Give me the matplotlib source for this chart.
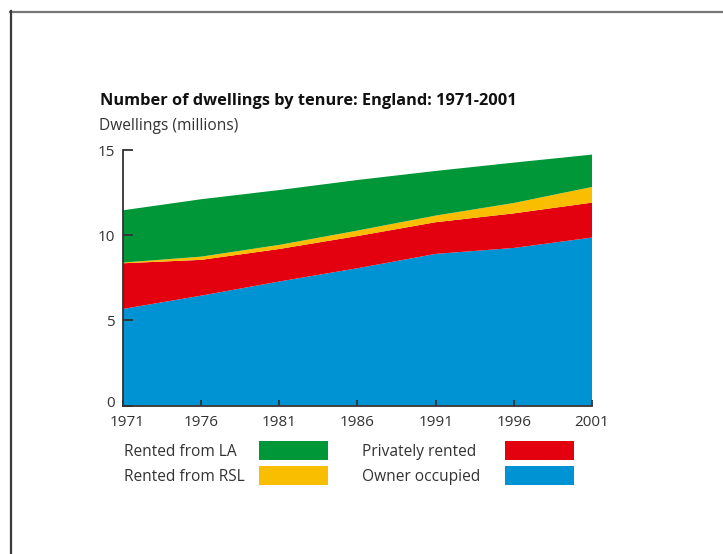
import numpy as np
import matplotlib
matplotlib.use("Agg")
import matplotlib.pyplot as plt
from matplotlib.patches import Rectangle
from matplotlib.lines import Line2D
from matplotlib.transforms import ScaledTranslation

# data (millions of dwellings)
years = [1971, 1976, 1981, 1986, 1991, 1996, 2001]
owner_occupied = [5.67, 6.45, 7.28, 8.06, 8.90, 9.25, 9.86]
privately_rented = [2.68, 2.10, 1.91, 1.89, 1.86, 2.03, 2.05]
rented_rsl = [0.04, 0.19, 0.24, 0.32, 0.39, 0.61, 0.92]
rented_la = [3.07, 3.37, 3.22, 2.97, 2.62, 2.37, 1.90]

labels = ["Owner occupied", "Privately rented", "Rented from RSL", "Rented from LA"]
colours = ["#0093d3", "#e3000f", "#f9be00", "#009739"]

plt.rcParams['font.family'] = ['Open Sans', 'DejaVu Sans']
txt = "#333333"

W, H = 723, 554
fig = plt.figure(figsize=(W / 100, H / 100), dpi=100)

def fx(px):
    return px / W

def fy(py):
    return 1 - py / H

# outer frame (top and left edge only)
fig.add_artist(Line2D([fx(10), 1], [fy(11.5), fy(11.5)], color="#777777", lw=1.6))
fig.add_artist(Line2D([fx(10.5), fx(10.5)], [fy(11), 0], color="#3a3a3a", lw=1.6))

ax = fig.add_axes([fx(123), fy(405.5), fx(592) - fx(123), fy(150) - fy(405.5)])
ax.stackplot(years, owner_occupied, privately_rented, rented_rsl, rented_la,
             colors=colours, linewidth=0)
ax.set_xlim(1971, 2001)
ax.set_ylim(0, 15)
ax.set_xticks(years)
ax.set_yticks([0, 5, 10, 15])

for s in ["top", "right"]:
    ax.spines[s].set_visible(False)
for s in ["left", "bottom"]:
    ax.spines[s].set_color("#333333")
    ax.spines[s].set_linewidth(1.3)

ax.tick_params(axis="y", direction="in", length=7, width=1.3, color="#333333",
               labelsize=11, labelcolor=txt, pad=6)
ax.tick_params(axis="x", direction="in", length=4, width=1.3, color="#333333",
               labelsize=11, labelcolor=txt, pad=7)
ax.set_facecolor("none")

# nudge the corner labels away from each other, as in the original
fig.canvas.draw()
xl = ax.get_xticklabels()[0]
xl.set_transform(xl.get_transform() + ScaledTranslation(0.04, 0, fig.dpi_scale_trans))
yl = ax.get_yticklabels()[0]
yl.set_transform(yl.get_transform() + ScaledTranslation(0, 0.04, fig.dpi_scale_trans))

# title and axis caption
fig.text(fx(100), fy(101), "Number of dwellings by tenure: England: 1971-2001",
         fontsize=11.8, fontweight="bold", color="#111111", va="center", ha="left")
fig.text(fx(99), fy(126), "Dwellings (millions)", fontsize=11.2, color=txt,
         va="center", ha="left")

# legend built by hand, two columns
leg = [
    ("Rented from LA", colours[3], 124, 259, 450),
    ("Rented from RSL", colours[2], 124, 259, 475),
    ("Privately rented", colours[1], 362, 505, 450),
    ("Owner occupied", colours[0], 362, 505, 475),
]
for name, col, tx, px, py in leg:
    fig.text(fx(tx), fy(py + 2), name, fontsize=11.2, color=txt, va="center", ha="left")
    fig.add_artist(Rectangle((fx(px), fy(py + 9.5)), fx(69), 19 / H,
                             facecolor=col, edgecolor="none"))

fig.savefig("out.png", dpi=100)
